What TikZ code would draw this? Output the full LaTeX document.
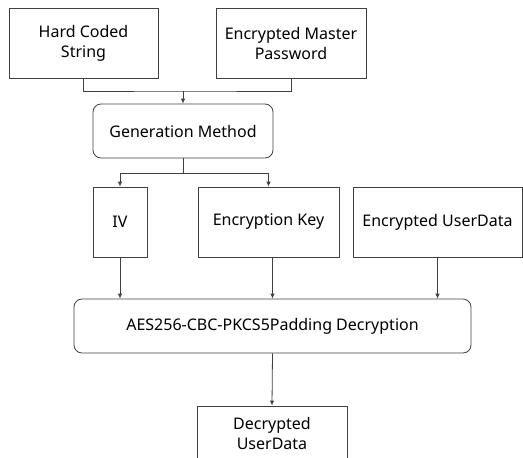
\documentclass[tikz,border=0pt]{standalone}
\usepackage{fontspec}
\setmainfont{Noto Sans}
\usetikzlibrary{arrows.meta}

\begin{document}
\begin{tikzpicture}[x=1pt, y=-1pt,
    font=\fontsize{16}{20}\selectfont,
    box/.style={draw=black!75, line width=.8pt, align=center, inner sep=0pt},
    roundbox/.style={box, rounded corners=8pt},
    line/.style={draw=black!75, line width=.8pt},
    arrow/.style={line, -{Latex[length=5pt, width=4.5pt]}}]
    \clip (0,0) rectangle (523,458);
    % Inputs
    \node[box, minimum width=149pt, minimum height=70pt] (hard) at (83.5,43) {Hard Coded\\String};
    \node[box, minimum width=150pt, minimum height=70pt] (master) at (291,43) {Encrypted Master\\Password};
    % Generation
    \node[roundbox, minimum width=180pt, minimum height=54pt] (gen) at (183,131) {Generation Method};
    \coordinate (join) at (183,91);
    \coordinate (split) at (183,173);
    % Second row
    \foreach \name/\x/\w/\txt in {iv/120/54/IV, key/268.5/141/Encryption Key, eud/437.5/169/Encrypted UserData} {
        \node[box, minimum width=\w pt, minimum height=70pt] (\name) at (\x,222) {\txt};
    }
    % Decryption
    \node[roundbox, minimum width=397pt, minimum height=54pt] (aes) at (272.5,326) {AES256-CBC-PKCS5Padding Decryption};
    \node[box, minimum width=150pt, minimum height=54pt] (dec) at (272,433) {Decrypted\\UserData};
    % Arrows
    \draw[line] (hard.south) |- (join) -| (master.south);
    \draw[arrow] (join) -- (gen.north);
    \draw[line] (gen.south) -- (split);
    \foreach \name in {iv, key} {
        \draw[arrow] (split) -| (\name.north);
    }
    \foreach \name in {iv, eud} {
        \draw[arrow] (\name.south) -- (\name.south |- aes.north);
    }
    \draw[arrow] (aes.north |- key.south) -- (aes.north);
    \draw[arrow] (aes.south) -- (dec.north);
\end{tikzpicture}
\end{document}
